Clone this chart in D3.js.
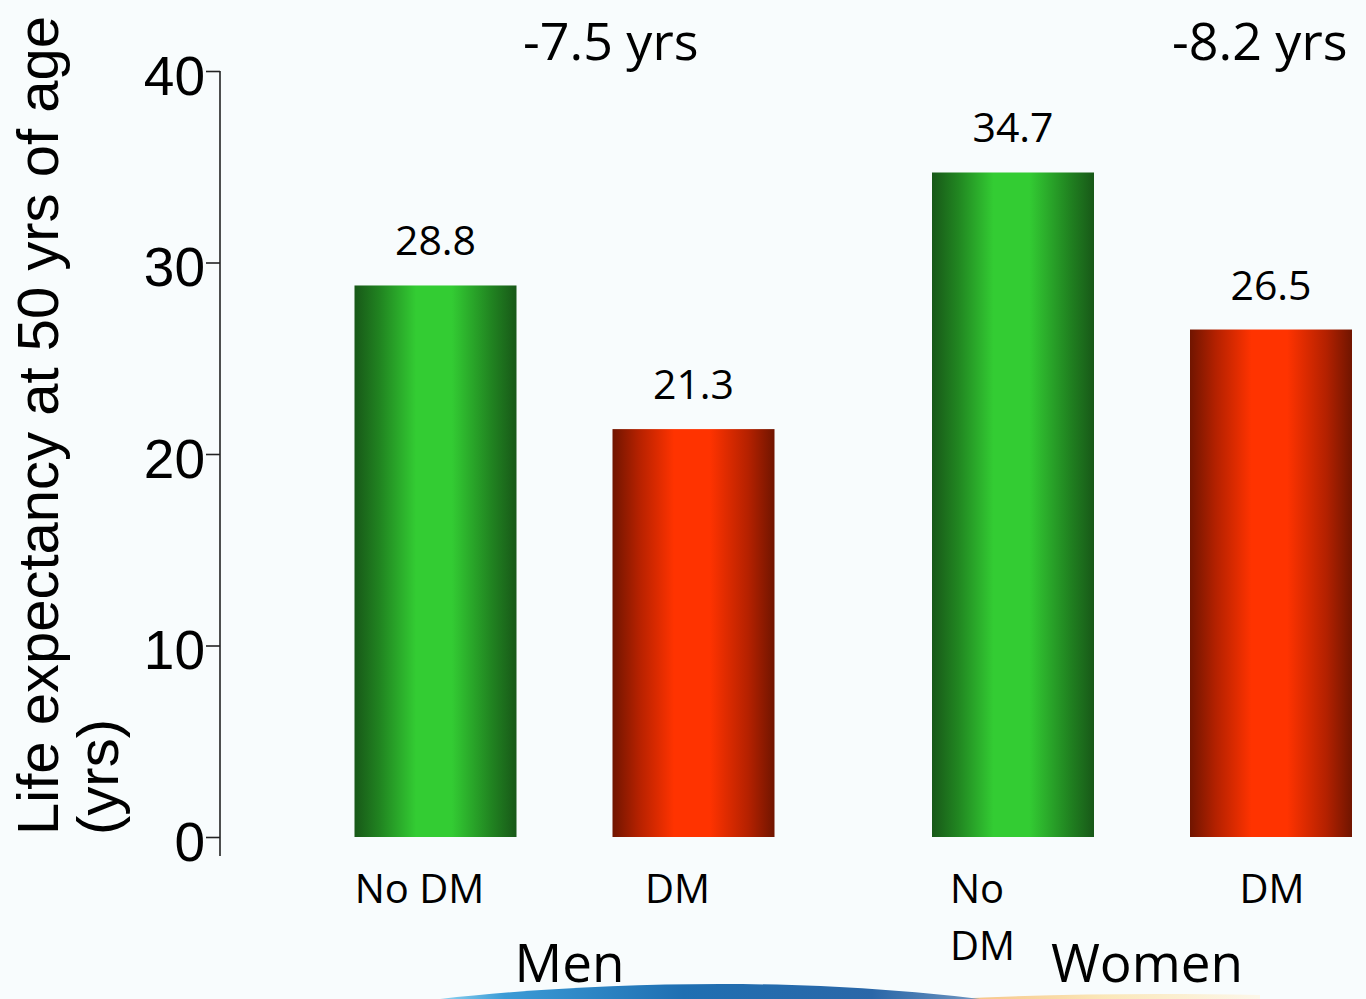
<!DOCTYPE html>
<html>
<head>
<meta charset="utf-8">
<script src="https://cdn.jsdelivr.net/npm/d3@7"></script>
<style>
  html, body { margin: 0; padding: 0; background: #f8fcfd; }
  svg { display: block; }
</style>
</head>
<body>
<svg id="chart" width="1366" height="999"></svg>
<script>
// Life expectancy at age 50, with and without diabetes (DM)
const groups = ["Men", "Women"];
const conditions = ["No DM", "DM"];
const menValues = [28.8, 21.3];
const womenValues = [34.7, 26.5];
const lossLabels = ["-7.5 yrs", "-8.2 yrs"];
const yTickValues = [0, 10, 20, 30, 40];
const yTitleLines = ["Life expectancy at 50 yrs of age", "(yrs)"];

// Category label wrapping under each bar
const conditionLabelLines = {
  "Men|No DM": ["No DM"],
  "Men|DM": ["DM"],
  "Women|No DM": ["No", "DM"],
  "Women|DM": ["DM"]
};

// Layout / styling
const W = 1366, H = 999;
const plotTop = 71, plotBottom = 837;
const axisX = 220;
const barWidth = 162;
const labelNudge = {
  "Men|No DM": { dx: -16, anchor: "middle" },
  "Men|DM": { dx: -16, anchor: "middle" },
  "Women|No DM": { dx: -63, anchor: "start" },
  "Women|DM": { dx: 1, anchor: "middle" }
};
const lossLabelX = [523, 1172];

const rows = groups.flatMap((g, i) =>
  conditions.map((c, j) => ({
    group: g,
    cond: c,
    key: g + "|" + c,
    value: [menValues, womenValues][i][j]
  }))
);

const svg = d3.select("#chart");
const defs = svg.append("defs");

function barGradient(id, edge, mid, center) {
  const g = defs.append("linearGradient")
    .attr("id", id).attr("x1", "0%").attr("x2", "100%").attr("y1", "0%").attr("y2", "0%");
  [[0, edge], [0.16, mid], [0.38, center], [0.6, center], [0.84, mid], [1, edge]]
    .forEach(([o, c]) => g.append("stop").attr("offset", o).attr("stop-color", c));
}
barGradient("gradNo", "#185818", "#218521", "#33cc33");
barGradient("gradDm", "#701500", "#b42100", "#ff3300");

// Decorative swoosh at the bottom edge
const swoosh = defs.append("linearGradient").attr("id", "swoosh")
  .attr("x1", "0%").attr("x2", "100%");
[[0, "#8fd3f0"], [0.12, "#3b9bd6"], [0.45, "#1f6fb2"], [0.8, "#2a67a8"], [1, "#6f95c0"]]
  .forEach(([o, c]) => swoosh.append("stop").attr("offset", o).attr("stop-color", c));
const warm = defs.append("linearGradient").attr("id", "warm")
  .attr("x1", "0%").attr("x2", "100%");
[[0, "#f5b060"], [0.5, "#fbe2a8"], [1, "#fdf6e6"]]
  .forEach(([o, c]) => warm.append("stop").attr("offset", o).attr("stop-color", c));

svg.append("path")
  .attr("d", "M 950 999 C 1050 994 1150 993 1260 995 L 1260 999 Z")
  .attr("fill", "url(#warm)").attr("opacity", 0.8);
svg.append("path")
  .attr("d", "M 440 999 C 520 990 620 984 720 984 C 820 984 900 990 980 999 Z")
  .attr("fill", "url(#swoosh)");

// Scales
const y = d3.scaleLinear().domain([0, 40]).range([plotBottom, plotTop]);
const xGroup = d3.scaleBand().domain(groups).range([275.75, 1430.75]).padding(0);
const xSub = d3.scalePoint().domain(conditions).range([-129, 129]);
const barCenter = d => xGroup(d.group) + xGroup.bandwidth() / 2 + xSub(d.cond);

// Y axis
svg.append("line")
  .attr("x1", axisX).attr("x2", axisX)
  .attr("y1", plotTop).attr("y2", 856)
  .attr("stroke", "#222").attr("stroke-width", 1.6);

const yAxis = svg.append("g")
  .attr("transform", `translate(${axisX},0)`)
  .call(d3.axisLeft(y).tickValues(yTickValues).tickSize(14).tickPadding(1).tickFormat(d3.format("d")));
yAxis.select(".domain").remove();
yAxis.selectAll(".tick line").attr("stroke", "#222").attr("stroke-width", 1.6);
yAxis.selectAll(".tick text")
  .attr("font-family", "'Liberation Sans', Arial, sans-serif")
  .attr("font-size", 55)
  .attr("fill", "#000")
  .attr("dy", "0.42em");

// Y axis title (two lines, rotated)
const yTitle = svg.append("text")
  .attr("transform", "translate(58,835) rotate(-90)")
  .attr("font-family", "'Liberation Sans', Arial, sans-serif")
  .attr("font-size", 58)
  .attr("fill", "#000");
yTitle.selectAll("tspan").data(yTitleLines).join("tspan")
  .attr("x", 0).attr("y", (d, i) => i * 60)
  .text(d => d);

// Bars
svg.append("g").selectAll("rect").data(rows).join("rect")
  .attr("x", d => barCenter(d) - barWidth / 2)
  .attr("width", barWidth)
  .attr("y", d => y(d.value))
  .attr("height", d => y(0) - y(d.value))
  .attr("fill", d => d.cond === "No DM" ? "url(#gradNo)" : "url(#gradDm)");

const textFont = "'Open Sans', 'Noto Sans', sans-serif";

// Value labels
svg.append("g").selectAll("text").data(rows).join("text")
  .attr("x", d => barCenter(d))
  .attr("y", d => y(d.value) - 30)
  .attr("text-anchor", "middle")
  .attr("font-family", textFont)
  .attr("font-size", 41)
  .attr("fill", "#000")
  .text(d => d.value.toFixed(1));

// Condition labels under bars
const condLabels = svg.append("g").selectAll("text").data(rows).join("text")
  .attr("text-anchor", d => labelNudge[d.key].anchor)
  .attr("font-family", textFont)
  .attr("font-size", 40)
  .attr("fill", "#000");
condLabels.each(function (d) {
  const x0 = barCenter(d) + labelNudge[d.key].dx;
  d3.select(this).selectAll("tspan").data(conditionLabelLines[d.key]).join("tspan")
    .attr("x", x0)
    .attr("y", (t, i) => 903 + i * 57)
    .text(t => t);
});

// Group labels
svg.append("g").selectAll("text").data(groups).join("text")
  .attr("x", g => xGroup(g) + xGroup.bandwidth() / 2 + 5)
  .attr("y", 982)
  .attr("text-anchor", "middle")
  .attr("font-family", textFont)
  .attr("font-size", 53)
  .attr("fill", "#000")
  .text(g => g);

// Life-years lost annotations
svg.append("g").selectAll("text").data(lossLabels).join("text")
  .attr("x", (t, i) => lossLabelX[i])
  .attr("y", 60)
  .attr("text-anchor", "start")
  .attr("font-family", textFont)
  .attr("font-size", 52)
  .attr("fill", "#000")
  .text(t => t);
</script>
</body>
</html>
